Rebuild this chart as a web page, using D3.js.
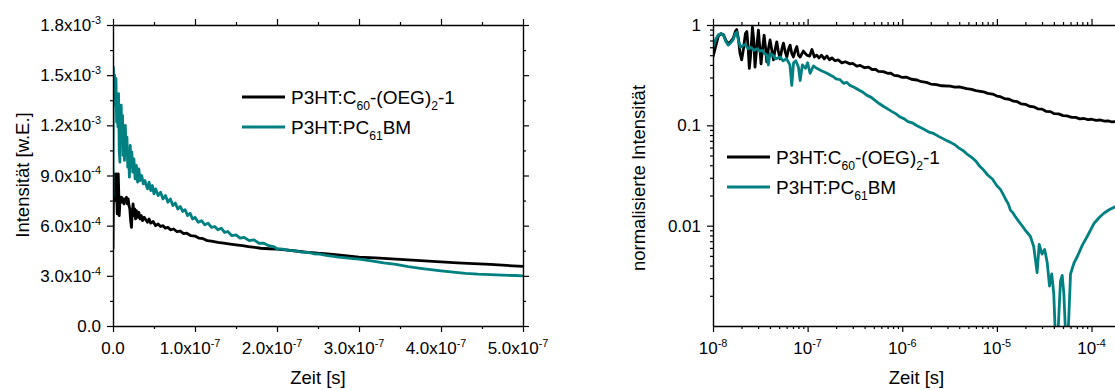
<!DOCTYPE html>
<html>
<head>
<meta charset="utf-8">
<script src="https://cdn.jsdelivr.net/npm/d3@7"></script>
<style>
    body { margin: 0; background: #fff; }
    svg text { font-family: Arial, "Liberation Sans", sans-serif; fill: #000; }
</style>
</head>
<body>
<div id="chart"></div>
<script>

// ---- data ----

// left panel: time in ns, intensity in 1e-4 a.u.
const linOeg = [[0,4.6],[0.5,7.6],[1.0,7.9],[1.6,9.1],[2.2,7.6],[2.8,7.5],[3.4,8.4],[4.0,9.1],[4.6,7.7],[5.2,6.7],
    [5.8,7.5],[6.4,9.1],[7.0,8.0],[7.6,6.6],[8.2,7.2],[8.8,7.7],[9.6,7.5],[10.5,7.7],[11.5,7.4],[12.5,7.6],
    [13.5,7.3],[14.5,7.6],[15.5,7.5],[16.5,7.7],[17.5,7.3],[18.5,7.6],[19.5,7.2],[20.5,7.0],[21.5,6.3],[22.5,5.9],
    [23.5,6.8],[24.5,7.3],[25.5,6.6],[26.5,7.0],[27.5,6.4],[28.5,6.9],[30,6.5],[31.5,6.8],[33,6.4],[34.5,6.6],
    [36,6.3],[38,6.5],[40,6.35],[42,6.2],[44,6.4],[46,6.15],[49,6.25],[52,6.0],[55,6.1],[58,5.95],[61,6.0],
    [64,5.85],[67,5.9],[70,5.75],[74,5.8],[78,5.65],[82,5.68],[86,5.52],[90,5.55],[95,5.4],[100,5.38],[105,5.25],
    [110,5.22],[115,5.1],[120,5.08],[128,5.0],[135,4.95],[143,4.9],[150,4.85],[158,4.8],[165,4.75],[173,4.7],
    [180,4.65],[190,4.62],[200,4.6],[210,4.55],[220,4.5],[235,4.42],[250,4.35],[265,4.3],[280,4.22],[300,4.12],
    [320,4.07],[340,4.02],[360,3.96],[380,3.9],[400,3.84],[420,3.78],[440,3.73],[460,3.68],[480,3.62],[500,3.56]];

const linPcbm = [[0,7.7],[0.4,15.5],[1.2,14.6],[2,15.0],[2.8,13.2],[3.6,14.8],[4.4,12.2],[5.2,13.6],[6.0,11.9],
    [6.8,13.9],[7.6,10.5],[8.4,9.8],[9.2,12.4],[10,13.2],[10.8,11.0],[11.6,12.6],[12.4,10.2],[13.2,11.5],[14,9.9],
    [15,12.0],[16,10.6],[17,11.3],[18,9.5],[19,10.4],[20,8.9],[21,10.8],[22,9.6],[23,10.4],[24,9.2],[25.5,10.0],
    [27,8.8],[28.5,9.6],[30,8.6],[31.5,9.4],[33,8.7],[35,9.0],[37,8.5],[39,8.7],[40,8.5],[42,8.2],[44,8.6],
    [46,8.1],[48,8.4],[50,7.9],[52,8.2],[55,7.8],[58,8.0],[61,7.6],[64,7.8],[67,7.4],[70,7.6],[73,7.2],[76,7.35],
    [79,7.0],[82,7.15],[85,6.85],[88,6.95],[91,6.6],[94,6.75],[97,6.4],[100,6.5],[104,6.2],[108,6.3],[112,6.05],
    [116,6.15],[120,5.9],[124,5.95],[128,5.75],[132,5.85],[136,5.6],[140,5.65],[145,5.4],[150,5.45],[155,5.25],
    [160,5.3],[166,5.1],[172,5.15],[178,4.95],[184,4.95],[190,4.8],[196,4.75],[200,4.62],[207,4.6],[215,4.52],
    [222,4.5],[230,4.42],[238,4.4],[245,4.32],[252,4.3],[260,4.22],[275,4.12],[290,4.05],[300,4.0],[315,3.9],
    [330,3.78],[345,3.68],[360,3.55],[375,3.45],[390,3.36],[400,3.3],[415,3.22],[430,3.15],[445,3.1],[460,3.07],
    [475,3.04],[490,3.02],[500,3.0]];

// right panel: time in s, normalised intensity
const logOeg = [[1.0e-8,0.48],[1.07e-8,0.62],[1.14e-8,0.78],[1.22e-8,0.82],[1.29e-8,0.8],[1.37e-8,0.7],[1.45e-8,0.65],
    [1.55e-8,0.69],[1.64e-8,0.74],[1.72e-8,0.86],[1.78e-8,0.9],[1.86e-8,0.72],[1.93e-8,0.52],[2.01e-8,0.45],
    [2.1e-8,0.58],[2.2e-8,0.82],[2.28e-8,0.86],[2.35e-8,0.6],[2.42e-8,0.37],[2.5e-8,0.5],[2.61e-8,0.95],[2.7e-8,0.7],
    [2.78e-8,0.38],[2.9e-8,0.6],[3.02e-8,0.89],[3.12e-8,0.6],[3.22e-8,0.41],[3.35e-8,0.6],[3.47e-8,0.79],[3.6e-8,0.58],
    [3.7e-8,0.43],[3.85e-8,0.58],[4.01e-8,0.71],[4.2e-8,0.55],[4.35e-8,0.45],[4.55e-8,0.58],[4.72e-8,0.68],[4.9e-8,0.55],
    [5.12e-8,0.46],[5.35e-8,0.58],[5.55e-8,0.66],[5.8e-8,0.54],[6.03e-8,0.48],[6.3e-8,0.58],[6.53e-8,0.63],[6.8e-8,0.52],
    [7.08e-8,0.48],[7.4e-8,0.56],[7.69e-8,0.61],[8.0e-8,0.5],[8.34e-8,0.48],[9.0e-8,0.55],[9.8e-8,0.5],[1.05e-7,0.49],
    [1.11e-7,0.57],[1.18e-7,0.48],[1.25e-7,0.5],[1.32e-7,0.47],[1.4e-7,0.5],[1.5e-7,0.46],[1.6e-7,0.49],[1.7e-7,0.45],
    [1.8e-7,0.47],[1.95e-7,0.44],[2.1e-7,0.45],[2.3e-7,0.42],[2.5e-7,0.43],[2.8e-7,0.41],[3.0e-7,0.415],[3.3e-7,0.39],
    [3.6e-7,0.395],[4.0e-7,0.375],[4.4e-7,0.38],[4.8e-7,0.36],[5.2e-7,0.362],[5.6e-7,0.345],[6.3e-7,0.343],
    [7.0e-7,0.33],[7.5e-7,0.332],[8.2e-7,0.315],[9e-7,0.312],[1.0e-6,0.3],[1.1e-6,0.302],[1.25e-6,0.288],
    [1.43e-6,0.283],[1.6e-6,0.272],[1.8e-6,0.268],[2.0e-6,0.258],[2.3e-6,0.254],[2.6e-6,0.248],[3.2e-6,0.246],
    [3.6e-6,0.24],[4.0e-6,0.242],[4.8e-6,0.232],[5.4e-6,0.228],[6.0e-6,0.222],[7.2e-6,0.216],[8.0e-6,0.208],
    [9.0e-6,0.205],[1.0e-5,0.196],[1.09e-5,0.193],[1.2e-5,0.185],[1.35e-5,0.182],[1.5e-5,0.174],[1.64e-5,0.172],
    [1.8e-5,0.164],[2.0e-5,0.162],[2.2e-5,0.155],[2.45e-5,0.153],[2.7e-5,0.146],[3.0e-5,0.145],[3.3e-5,0.138],
    [3.68e-5,0.137],[4.0e-5,0.131],[4.5e-5,0.13],[5.0e-5,0.125],[5.5e-5,0.124],[6.2e-5,0.12],[6.8e-5,0.12],
    [7.5e-5,0.116],[8.3e-5,0.117],[9.2e-5,0.114],[1.0e-4,0.115],[1.12e-4,0.112],[1.24e-4,0.113],[1.37e-4,0.11],
    [1.5e-4,0.111],[1.65e-4,0.108],[1.8e-4,0.109],[2.0e-4,0.107]];

const logPcbm = [[1.0e-8,0.6],[1.07e-8,0.72],[1.14e-8,0.8],[1.22e-8,0.82],[1.29e-8,0.79],[1.37e-8,0.68],[1.45e-8,0.63],
    [1.55e-8,0.67],[1.64e-8,0.72],[1.72e-8,0.82],[1.78e-8,0.85],[1.86e-8,0.7],[1.95e-8,0.6],[2.05e-8,0.62],[2.2e-8,0.64],
    [2.35e-8,0.58],[2.5e-8,0.6],[2.7e-8,0.56],[2.9e-8,0.58],[3.1e-8,0.55],[3.3e-8,0.56],[3.5e-8,0.52],[3.7e-8,0.5],
    [3.85e-8,0.4],[4.0e-8,0.52],[4.3e-8,0.5],[4.6e-8,0.46],[5.12e-8,0.48],[5.5e-8,0.44],[6.0e-8,0.46],[6.5e-8,0.4],
    [6.8e-8,0.25],[7.1e-8,0.42],[7.5e-8,0.44],[8.0e-8,0.38],[8.34e-8,0.28],[8.8e-8,0.4],[9.5e-8,0.37],[1.0e-7,0.42],
    [1.06e-7,0.33],[1.15e-7,0.39],[1.25e-7,0.37],[1.4e-7,0.35],[1.6e-7,0.33],[1.87e-7,0.305],[2.0e-7,0.29],
    [2.2e-7,0.285],[2.4e-7,0.262],[2.6e-7,0.268],[2.8e-7,0.25],[3.1e-7,0.24],[3.4e-7,0.228],[3.8e-7,0.215],[4.2e-7,0.2],
    [4.7e-7,0.19],[5.2e-7,0.176],[5.7e-7,0.165],[6.3e-7,0.155],[7.0e-7,0.146],[7.8e-7,0.137],[8.6e-7,0.13],
    [9.5e-7,0.121],[1.05e-6,0.116],[1.15e-6,0.109],[1.3e-6,0.105],[1.43e-6,0.099],[1.6e-6,0.094],[1.75e-6,0.09],
    [1.95e-6,0.085],[2.14e-6,0.083],[2.4e-6,0.078],[2.6e-6,0.075],[2.9e-6,0.071],[3.2e-6,0.068],[3.6e-6,0.064],
    [4.0e-6,0.059],[4.4e-6,0.056],[4.8e-6,0.052],[5.4e-6,0.048],[6.0e-6,0.044],[6.6e-6,0.039],[7.2e-6,0.036],
    [8.0e-6,0.032],[9.0e-6,0.029],[1.0e-5,0.025],[1.09e-5,0.023],[1.18e-5,0.02],[1.25e-5,0.018],[1.32e-5,0.0165],
    [1.39e-5,0.0143],[1.47e-5,0.0135],[1.55e-5,0.0125],[1.65e-5,0.0115],[1.77e-5,0.0105],[1.9e-5,0.0096],[2.0e-5,0.009],
    [2.1e-5,0.0085],[2.26e-5,0.0078],[2.45e-5,0.0062],[2.66e-5,0.0034],[2.8e-5,0.0065],[3.0e-5,0.0052],[3.2e-5,0.0058],
    [3.4e-5,0.0043],[3.6e-5,0.0025],[3.8e-5,0.0033],[3.99e-5,0.0021],[4.15e-5,0.0008],[4.33e-5,0.0005],[4.5e-5,0.0012],
    [4.7e-5,0.0028],[4.9e-5,0.0032],[5.1e-5,0.0021],[5.3e-5,0.0009],[5.5e-5,0.0005],[5.75e-5,0.0012],[6.0e-5,0.0033],
    [6.5e-5,0.0042],[7.06e-5,0.0049],[8.0e-5,0.0064],[9.0e-5,0.0078],[1.06e-4,0.0105],[1.2e-4,0.012],[1.35e-4,0.0133],
    [1.55e-4,0.0145],[1.8e-4,0.0155],[2.0e-4,0.016]];

const seriesColors = ["#000000", "#008080"];
// legend labels as [text, 0 = normal | -1 = subscript]
const seriesLabels = [
    [["P3HT:C", 0], ["60", -1], ["-(OEG)", 0], ["2", -1], ["-1", 0]],
    [["P3HT:PC", 0], ["61", -1], ["BM", 0]]
];

// tick labels as [mantissa, exponent]
const linXTicks = [0, 1e-7, 2e-7, 3e-7, 4e-7, 5e-7];
const linXLabels = [["0.0", ""], ["1.0x10", "-7"], ["2.0x10", "-7"], ["3.0x10", "-7"], ["4.0x10", "-7"], ["5.0x10", "-7"]];
const linYTicks = [0, 3e-4, 6e-4, 9e-4, 1.2e-3, 1.5e-3, 1.8e-3];
const linYLabels = [["0.0", ""], ["3.0x10", "-4"], ["6.0x10", "-4"], ["9.0x10", "-4"], ["1.2x10", "-3"], ["1.5x10", "-3"], ["1.8x10", "-3"]];

const logXTicks = [1e-8, 1e-7, 1e-6, 1e-5, 1e-4];
const logXLabels = [["10", "-8"], ["10", "-7"], ["10", "-6"], ["10", "-5"], ["10", "-4"]];
const logYTicks = [0.01, 0.1, 1];
const logYLabels = [["0.01", ""], ["0.1", ""], ["1", ""]];

const xTitle = "Zeit [s]";
const linYTitle = "Intensität [w.E.]";
const logYTitle = "normalisierte Intensität";


// ---- drawing ----

const WIDTH = 1115, HEIGHT = 390;
const TICK_FS = 17, TITLE_FS = 18.5, LEGEND_FS = 19;

let svg = d3.select("#chart")
    .append("svg")
    .attr("width", WIDTH)
    .attr("height", HEIGHT);

// text with super/subscripts, parts: [string, pos] pos 1 = super, -1 = sub
function richText(g, parts, x, y, size, anchor) {
    let t = g.append("text")
        .attr("x", x)
        .attr("y", y)
        .attr("font-size", size)
        .attr("text-anchor", anchor || "start");
    let shift = 0;
    parts.forEach(([s, pos]) => {
        if (!s) return;
        let target = pos === 1 ? -0.42 * size : pos === -1 ? 0.32 * size : 0;
        t.append("tspan")
            .attr("dy", target - shift)
            .attr("font-size", pos === 0 ? size : size * 0.64)
            .text(s);
        shift = target;
    });
    return t;
}

function logMinor(decades, max) {
    let out = [];
    decades.forEach(d => {
        for (let k = 2; k <= 9; k++) {
            if (k * d <= max) out.push(k * d);
        }
    });
    return out;
}

function drawPanel(p) {
    let g = svg.append("g");
    let [xa, xb] = p.x.range();
    let [yb, ya] = p.y.range();

    g.append("clipPath").attr("id", p.id)
        .append("rect")
        .attr("x", xa).attr("y", ya)
        .attr("width", xb - xa).attr("height", yb - ya);

    // curves
    let line = d3.line()
        .x(d => p.x(d[0] * p.xs))
        .y(d => p.y(d[1] * p.ys));

    g.append("g").attr("clip-path", `url(#${p.id})`)
        .selectAll("path")
        .data(p.series)
        .enter()
        .append("path")
        .attr("fill", "none")
        .attr("stroke", (d, i) => seriesColors[i])
        .attr("stroke-width", 2.8)
        .attr("stroke-linejoin", "round")
        .attr("d", line);

    // axes: major + minor ticks on all four sides
    let axes = [
        [d3.axisBottom(p.x), yb, 0, p.xTicks, p.xMinor],
        [d3.axisTop(p.x), ya, 0, p.xTicks, p.xMinor],
        [d3.axisLeft(p.y), 0, xa, p.yTicks, p.yMinor],
        [d3.axisRight(p.y), 0, xb, p.yTicks, p.yMinor]
    ];
    axes.forEach(([ax, ty, tx, major, minor]) => {
        g.append("g")
            .attr("transform", `translate(${tx},${ty})`)
            .call(ax.tickValues(minor).tickSize(3).tickSizeOuter(0).tickFormat(""))
            .call(s => s.select(".domain").remove());
        g.append("g")
            .attr("transform", `translate(${tx},${ty})`)
            .call(ax.tickValues(major).tickSize(6).tickSizeOuter(0).tickFormat(""));
    });
    g.selectAll(".domain").attr("stroke", "#000").attr("stroke-width", 1.4);
    g.selectAll(".tick line").attr("stroke", "#000").attr("stroke-width", 1.2);

    // tick labels
    p.xTicks.forEach((v, i) => {
        let [m, e] = p.xLabels[i];
        richText(g, [[m, 0], [e, 1]], p.x(v) + (e && p.xShift ? p.xShift : 0), yb + 28, TICK_FS, "middle");
    });
    p.yTicks.forEach((v, i) => {
        let [m, e] = p.yLabels[i];
        richText(g, [[m, 0], [e, 1]], xa - 12, p.y(v) + 6, TICK_FS, "end");
    });

    // titles
    g.append("text")
        .attr("x", (xa + xb) / 2)
        .attr("y", 384)
        .attr("font-size", TITLE_FS)
        .attr("text-anchor", "middle")
        .text(xTitle);
    g.append("text")
        .attr("transform", `translate(${p.yTitleX},${p.yTitleY}) rotate(-90)`)
        .attr("font-size", TITLE_FS)
        .attr("text-anchor", "middle")
        .text(p.yTitle);

    // legend
    p.series.forEach((s, i) => {
        let ly = p.legY + i * 30;
        g.append("line")
            .attr("x1", p.legX).attr("x2", p.legX + 43)
            .attr("y1", ly).attr("y2", ly)
            .attr("stroke", seriesColors[i])
            .attr("stroke-width", 3);
        richText(g, seriesLabels[i], p.legX + 49, ly + 6.5, LEGEND_FS, "start");
    });
}

// left panel: linear
drawPanel({
    id: "clipLin",
    x: d3.scaleLinear().domain([0, 5e-7]).range([113, 523]),
    y: d3.scaleLinear().domain([0, 1.8e-3]).range([326, 25]),
    xs: 1e-9, ys: 1e-4,
    series: [linOeg, linPcbm],
    xTicks: linXTicks, xLabels: linXLabels, xShift: -5,
    xMinor: d3.range(5e-8, 5e-7, 1e-7),
    yTicks: linYTicks, yLabels: linYLabels,
    yMinor: d3.range(1.5e-4, 1.8e-3, 3e-4),
    yTitle: linYTitle, yTitleX: 29, yTitleY: 175,
    legX: 242, legY: 97
});

// right panel: log-log
drawPanel({
    id: "clipLog",
    x: d3.scaleLog().domain([1e-8, 2e-4]).range([713, 1120]),
    y: d3.scaleLog().domain([1e-3, 1]).range([326, 25]),
    xs: 1, ys: 1,
    series: [logOeg, logPcbm],
    xTicks: logXTicks, xLabels: logXLabels, xShift: 0,
    xMinor: logMinor(logXTicks, 2e-4),
    yTicks: logYTicks, yLabels: logYLabels,
    yMinor: logMinor([1e-3, 1e-2, 1e-1], 1),
    yTitle: logYTitle, yTitleX: 645, yTitleY: 178,
    legX: 727, legY: 157
});

</script>
</body>
</html>
